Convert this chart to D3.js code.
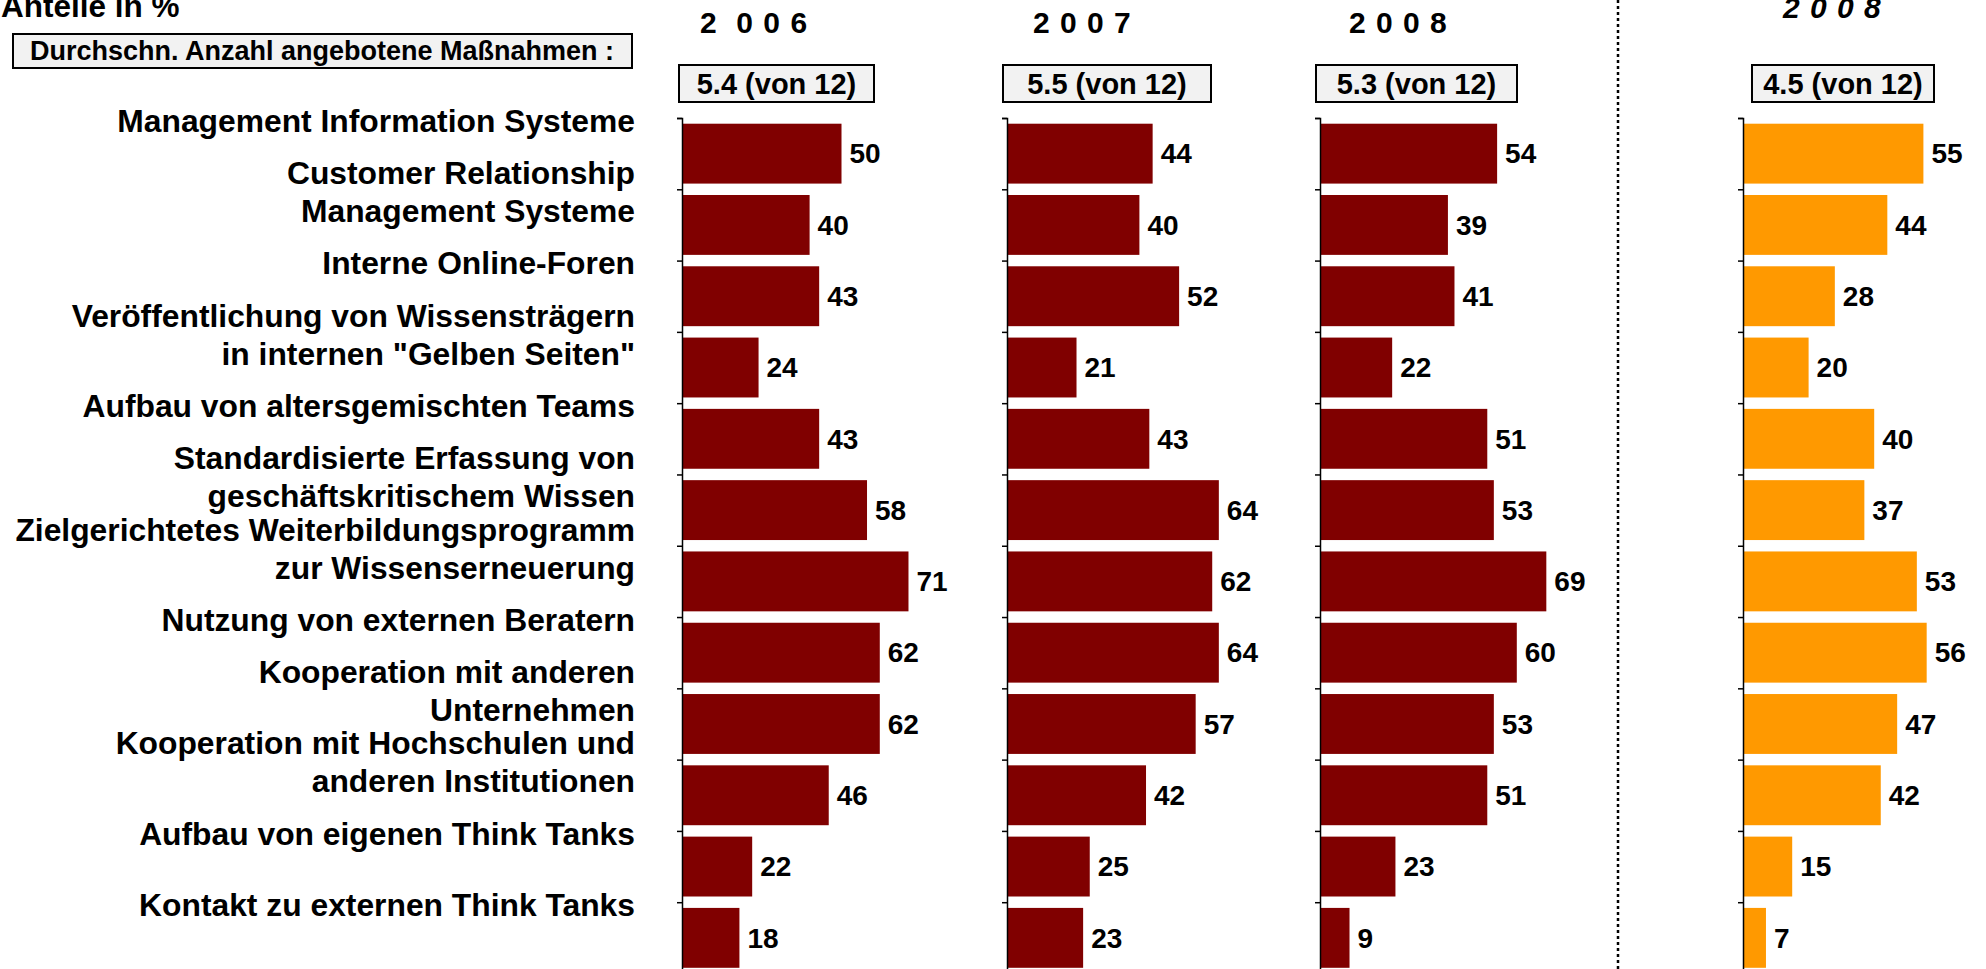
<!DOCTYPE html>
<html>
<head>
<meta charset="utf-8">
<script src="https://cdn.jsdelivr.net/npm/d3@7"></script>
<style>
  html, body { margin: 0; padding: 0; background: #fff; }
  svg { display: block; font-family: "Liberation Sans", Arial, sans-serif; font-weight: bold; }
</style>
</head>
<body>
<svg id="chart"></svg>
<script>
const width = 1986;
const height = 969;

// data
const categories = [
  ["Management Information Systeme"],
  ["Customer Relationship", "Management Systeme"],
  ["Interne Online-Foren"],
  ["Veröffentlichung von Wissensträgern", "in internen \"Gelben Seiten\""],
  ["Aufbau von altersgemischten Teams"],
  ["Standardisierte Erfassung von", "geschäftskritischem Wissen"],
  ["Zielgerichtetes Weiterbildungsprogramm", "zur Wissenserneuerung"],
  ["Nutzung von externen Beratern"],
  ["Kooperation mit anderen", "Unternehmen"],
  ["Kooperation mit Hochschulen und", "anderen Institutionen"],
  ["Aufbau von eigenen Think Tanks"],
  ["Kontakt zu externen Think Tanks"]
];
const values2006 = [50, 40, 43, 24, 43, 58, 71, 62, 62, 46, 22, 18];
const values2007 = [44, 40, 52, 21, 43, 64, 62, 64, 57, 42, 25, 23];
const values2008 = [54, 39, 41, 22, 51, 53, 69, 60, 53, 51, 23, 9];
const values2008b = [55, 44, 28, 20, 40, 37, 53, 56, 47, 42, 15, 7];
const yearLabels = ["2  0 0 6", "2 0 0 7", "2 0 0 8", "2 0 0 8"];
const averages = ["5.4 (von 12)", "5.5 (von 12)", "5.3 (von 12)", "4.5 (von 12)"];

// layout of the four panels
const panels = [
  { values: values2006, year: yearLabels[0], avg: averages[0], x0: 682, w100: 319, color: "#800000", boxX: 679, boxW: 195, yearX: 700, yearY: 33, italic: false },
  { values: values2007, year: yearLabels[1], avg: averages[1], x0: 1007, w100: 331, color: "#800000", boxX: 1003, boxW: 208, yearX: 1033, yearY: 33, italic: false },
  { values: values2008, year: yearLabels[2], avg: averages[2], x0: 1320, w100: 328, color: "#800000", boxX: 1316, boxW: 201, yearX: 1349, yearY: 33, italic: false },
  { values: values2008b, year: yearLabels[3], avg: averages[3], x0: 1743, w100: 328, color: "#FF9900", boxX: 1752, boxW: 182, yearX: 1783, yearY: 18, italic: true }
];

const svg = d3.select("#chart").attr("width", width).attr("height", height);

const yTop = 118;
const yBottom = 973.5;
const y = d3
  .scaleBand()
  .domain(d3.range(categories.length))
  .range([yTop, yBottom])
  .paddingInner(0.16)
  .paddingOuter(0.08);

const yTicks = d3.scaleLinear().domain([0, categories.length]).range([yTop, yBottom]);

// header
svg.append("text").attr("x", 1).attr("y", 17).attr("font-size", 31.5).text("Anteile in %");

svg.append("rect")
  .attr("x", 13).attr("y", 34).attr("width", 619).attr("height", 34)
  .attr("fill", "#f2f2f2").attr("stroke", "#000").attr("stroke-width", 2);
svg.append("text")
  .attr("x", 322).attr("y", 51).attr("dy", "0.35em")
  .attr("text-anchor", "middle").attr("font-size", 27)
  .text("Durchschn. Anzahl angebotene Maßnahmen :");

// category labels
const labelLineH = 38;
const labels = svg.append("g").attr("font-size", 31.8).attr("text-anchor", "end");
categories.forEach((lines, i) => {
  const cy = y(i) + y.bandwidth() / 2 - 33;
  lines.forEach((line, k) => {
    labels.append("text")
      .attr("x", 635)
      .attr("y", cy - ((lines.length - 1) * labelLineH) / 2 + k * labelLineH)
      .attr("dy", "0.35em")
      .text(line);
  });
});

// dotted separator
svg.append("line")
  .attr("x1", 1618).attr("x2", 1618).attr("y1", 0).attr("y2", height)
  .attr("stroke", "#000").attr("stroke-width", 2.5).attr("stroke-dasharray", "3,3");

panels.forEach((p) => {
  const x = d3.scaleLinear().domain([0, 100]).range([p.x0, p.x0 + p.w100]);
  const g = svg.append("g");

  g.append("text")
    .attr("x", p.yearX).attr("y", p.yearY)
    .attr("font-size", 30)
    .attr("font-style", p.italic ? "italic" : "normal")
    .attr("letter-spacing", 1)
    .style("white-space", "pre")
    .text(p.year);

  g.append("rect")
    .attr("x", p.boxX).attr("y", 65).attr("width", p.boxW).attr("height", 37)
    .attr("fill", "#f2f2f2").attr("stroke", "#000").attr("stroke-width", 2);
  g.append("text")
    .attr("x", p.boxX + p.boxW / 2).attr("y", 84).attr("dy", "0.35em")
    .attr("text-anchor", "middle").attr("font-size", 29)
    .text(p.avg);

  g.selectAll("rect.bar")
    .data(p.values)
    .join("rect")
    .attr("class", "bar")
    .attr("x", x(0))
    .attr("y", (d, i) => y(i))
    .attr("width", (d) => x(d) - x(0))
    .attr("height", y.bandwidth())
    .attr("fill", p.color);

  g.selectAll("text.val")
    .data(p.values)
    .join("text")
    .attr("class", "val")
    .attr("x", (d) => x(d) + 8)
    .attr("y", (d, i) => y(i) + y.bandwidth() / 2)
    .attr("dy", "0.35em")
    .attr("font-size", 28)
    .text((d) => d);

  const axis = d3.axisLeft(yTicks).tickValues(d3.range(categories.length + 1)).tickSize(5).tickFormat("");
  g.append("g")
    .attr("transform", `translate(${p.x0},0)`)
    .call(axis)
    .call((a) => a.select(".domain").attr("stroke-width", 1.5))
    .call((a) => a.selectAll(".tick line").attr("stroke-width", 1.5));
});
</script>
</body>
</html>
